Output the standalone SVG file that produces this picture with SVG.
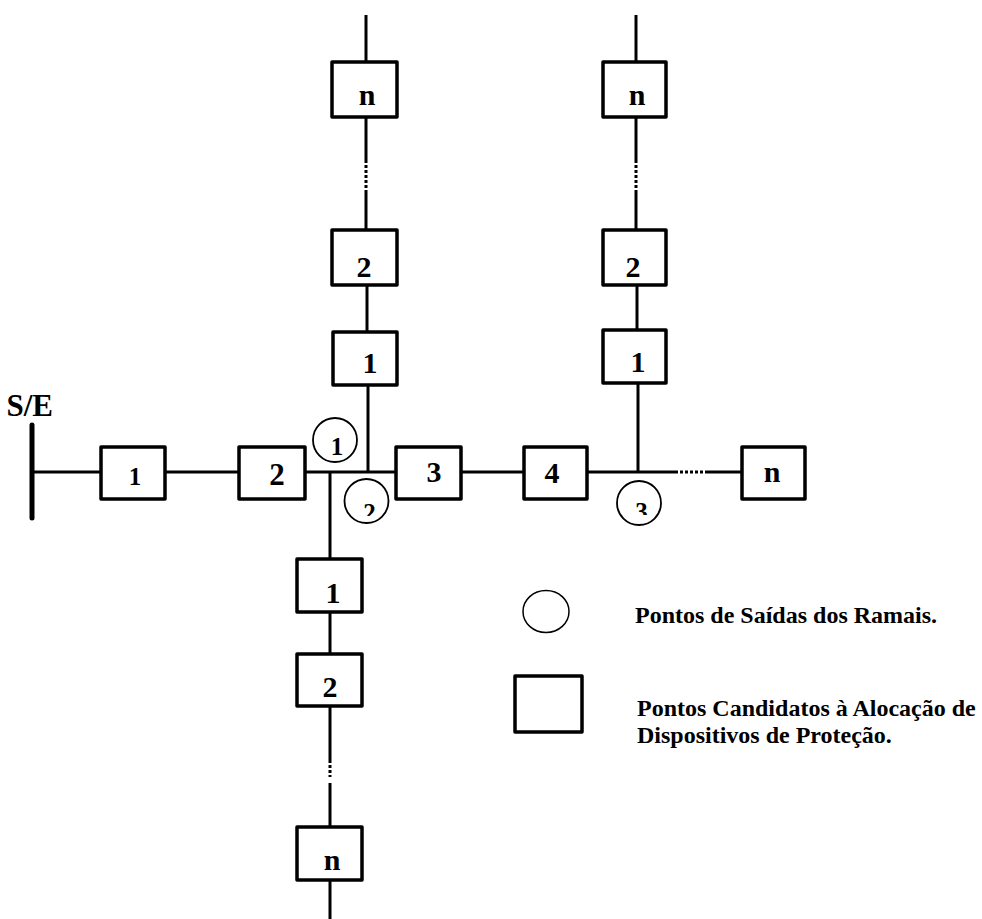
<svg xmlns="http://www.w3.org/2000/svg" width="982" height="919" viewBox="0 0 982 919">
  <style>
    .wire { stroke: #000; stroke-width: 3; fill: none; stroke-linecap: butt; }
    .dots { stroke: #000; stroke-width: 3; fill: none; stroke-dasharray: 3 2; }
    .box { fill: #fff; stroke: #000; stroke-width: 3.5; stroke-linejoin: round; }
    .ring { fill: #fff; stroke: #000; stroke-width: 1.8; }
    .lbl { font-family: "Liberation Serif", "Times New Roman", serif; font-weight: bold; fill: #000; text-anchor: middle; }
    .leg { font-family: "Liberation Serif", "Times New Roman", serif; font-weight: bold; font-size: 24px; fill: #000; }
  </style>
  <defs>
    <clipPath id="cut2"><rect x="340" y="480" width="60" height="36"/></clipPath>
    <clipPath id="cut3"><rect x="612" y="480" width="60" height="35"/></clipPath>
  </defs>

  <!-- feeder lines -->
  <g id="connectors">
    <!-- main trunk -->
    <line class="wire" x1="32" y1="472" x2="101" y2="472"/>
    <line class="wire" x1="165" y1="472" x2="239" y2="472"/>
    <line class="wire" x1="305" y1="472" x2="396" y2="472"/>
    <line class="wire" x1="461" y1="472" x2="524" y2="472"/>
    <line class="wire" x1="587" y1="472" x2="675" y2="472"/>
    <line class="dots" x1="675" y1="472" x2="705" y2="472"/>
    <line class="wire" x1="705" y1="472" x2="742" y2="472"/>
    <!-- upper-left branch -->
    <line class="wire" x1="366" y1="15" x2="366" y2="62"/>
    <line class="wire" x1="366" y1="117" x2="366" y2="160"/>
    <line class="dots" x1="366" y1="160" x2="366" y2="190"/>
    <line class="wire" x1="366" y1="190" x2="366" y2="230"/>
    <line class="wire" x1="367" y1="285" x2="367" y2="332"/>
    <line class="wire" x1="368" y1="385" x2="368" y2="472"/>
    <!-- upper-right branch -->
    <line class="wire" x1="636" y1="15" x2="636" y2="62"/>
    <line class="wire" x1="636" y1="117" x2="636" y2="160"/>
    <line class="dots" x1="636" y1="160" x2="636" y2="190"/>
    <line class="wire" x1="636" y1="190" x2="636" y2="230"/>
    <line class="wire" x1="637" y1="285" x2="637" y2="330"/>
    <line class="wire" x1="638" y1="383" x2="638" y2="472"/>
    <!-- lower branch -->
    <line class="wire" x1="330" y1="472" x2="330" y2="559"/>
    <line class="wire" x1="330" y1="612" x2="330" y2="654"/>
    <line class="wire" x1="330" y1="706" x2="330" y2="760"/>
    <line class="dots" x1="330" y1="760" x2="330" y2="777"/>
    <line class="wire" x1="330" y1="783" x2="330" y2="827"/>
    <line class="wire" x1="330" y1="880" x2="330" y2="919"/>
  </g>

  <!-- substation busbar -->
  <g id="se">
    <line x1="32" y1="425" x2="32" y2="518" stroke="#000" stroke-width="5" stroke-linecap="round"/>
    <text class="lbl" x="53" y="416" font-size="31" style="text-anchor:end">S/E</text>
  </g>

  <!-- trunk devices -->
  <g id="t1"><rect class="box" x="101" y="447" width="64" height="52"/><text class="lbl" x="135" y="485" font-size="25">1</text></g>
  <g id="t2"><rect class="box" x="239" y="447" width="66" height="52"/><text class="lbl" x="277" y="485" font-size="31">2</text></g>
  <g id="t3"><rect class="box" x="396" y="447" width="65" height="52"/><text class="lbl" x="434" y="482" font-size="30">3</text></g>
  <g id="t4"><rect class="box" x="524" y="447" width="63" height="52"/><text class="lbl" x="552" y="483" font-size="30">4</text></g>
  <g id="tn"><rect class="box" x="742" y="447" width="63" height="52"/><text class="lbl" x="772" y="482" font-size="30">n</text></g>

  <!-- upper-left branch devices -->
  <g id="a1"><rect class="box" x="333" y="332" width="64" height="53"/><text class="lbl" x="370" y="373" font-size="30">1</text></g>
  <g id="a2"><rect class="box" x="332" y="230" width="65" height="55"/><text class="lbl" x="364" y="277" font-size="30">2</text></g>
  <g id="an"><rect class="box" x="332" y="62" width="65" height="55"/><text class="lbl" x="367" y="105" font-size="30">n</text></g>

  <!-- upper-right branch devices -->
  <g id="b1"><rect class="box" x="603" y="330" width="63" height="53"/><text class="lbl" x="638" y="372" font-size="30">1</text></g>
  <g id="b2"><rect class="box" x="603" y="230" width="63" height="55"/><text class="lbl" x="633" y="277" font-size="30">2</text></g>
  <g id="bn"><rect class="box" x="603" y="62" width="63" height="55"/><text class="lbl" x="637" y="105" font-size="30">n</text></g>

  <!-- lower branch devices -->
  <g id="c1"><rect class="box" x="297" y="559" width="65" height="53"/><text class="lbl" x="333" y="603" font-size="30">1</text></g>
  <g id="c2"><rect class="box" x="297" y="654" width="65" height="52"/><text class="lbl" x="330" y="697" font-size="30">2</text></g>
  <g id="cn"><rect class="box" x="297" y="827" width="65" height="53"/><text class="lbl" x="332" y="870" font-size="30">n</text></g>

  <!-- branch take-off points -->
  <g id="r1"><circle class="ring" cx="335" cy="440" r="22"/><text class="lbl" x="337" y="455" font-size="25">1</text></g>
  <g id="r2"><circle class="ring" cx="366.5" cy="501" r="22"/><text class="lbl" x="369.5" y="521" font-size="25" clip-path="url(#cut2)">2</text></g>
  <g id="r3"><circle class="ring" cx="639" cy="503" r="22"/><text class="lbl" x="641.5" y="520" font-size="25" clip-path="url(#cut3)">3</text></g>

  <!-- legend -->
  <g id="legend">
    <ellipse cx="546" cy="611.5" rx="23" ry="21" fill="#fff" stroke="#000" stroke-width="1.5"/>
    <text class="leg" x="635" y="623">Pontos de Saídas dos Ramais.</text>
    <rect class="box" x="515" y="676" width="67" height="56"/>
    <text class="leg" x="637" y="716">Pontos Candidatos à Alocação de</text>
    <text class="leg" x="637" y="743">Dispositivos de Proteção.</text>
  </g>
</svg>
